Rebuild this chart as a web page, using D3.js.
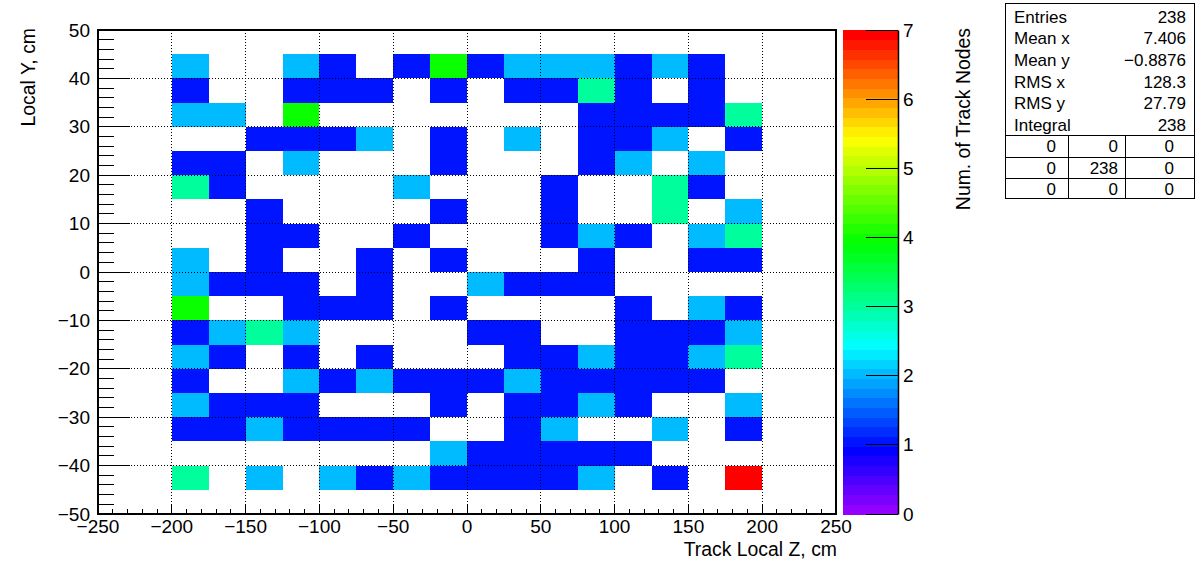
<!DOCTYPE html>
<html>
<head>
<meta charset="utf-8">
<script src="https://cdn.jsdelivr.net/npm/d3@7"></script>
<style>
  html, body { margin: 0; padding: 0; background: #fff; }
  svg { display: block; font-family: "Liberation Sans", Arial, Helvetica, sans-serif; }
</style>
</head>
<body>
<svg id="chart" width="1196" height="572"></svg>
<script>
// ---- data ----
const xBinLow = [-200, -175, -150, -125, -100, -75, -50, -25, 0, 25, 50, 75, 100, 125, 150, 175];
const xBinWidth = 25;
const yBinLow = [40, 35, 30, 25, 20, 15, 10, 5, 0, -5, -10, -15, -20, -25, -30, -35, -40, -45];
const yBinWidth = 5;
// counts[row][col], rows follow yBinLow (top to bottom), cols follow xBinLow
const counts = [
  [2,0,0,2,1,0,1,4,1,2,2,2,1,2,1,0],
  [1,0,0,1,1,1,0,1,0,1,1,3,1,0,1,0],
  [2,2,0,4,0,0,0,0,0,0,0,1,1,1,1,3],
  [0,0,1,1,1,2,0,1,0,2,0,1,1,2,0,1],
  [1,1,0,2,0,0,0,1,0,0,0,1,2,0,2,0],
  [3,1,0,0,0,0,2,0,0,0,1,0,0,3,1,0],
  [0,0,1,0,0,0,0,1,0,0,1,0,0,3,0,2],
  [0,0,1,1,0,0,1,0,0,0,1,2,1,0,2,3],
  [2,0,1,0,0,1,0,1,0,0,0,1,0,0,1,1],
  [2,1,1,1,0,1,0,0,2,1,1,1,0,0,0,0],
  [4,0,0,1,1,1,0,1,0,0,0,0,1,0,2,1],
  [1,2,3,2,0,0,0,0,1,1,0,0,1,1,1,2],
  [2,1,0,1,0,1,0,0,0,1,1,2,1,1,2,3],
  [1,0,0,2,1,2,1,1,1,2,1,1,1,1,1,0],
  [2,1,1,1,0,0,0,1,0,1,1,2,1,0,0,2],
  [1,1,2,1,1,1,1,0,0,1,2,0,0,2,0,1],
  [0,0,0,0,0,0,0,2,1,1,1,1,1,0,0,0],
  [3,0,2,0,2,1,2,1,1,1,1,2,0,1,0,7]
];
const xTicks = [-250, -200, -150, -100, -50, 0, 50, 100, 150, 200, 250];
const yTicks = [-50, -40, -30, -20, -10, 0, 10, 20, 30, 40, 50];
const zTicks = [0, 1, 2, 3, 4, 5, 6, 7];
const statLabels = ["Entries", "Mean x", "Mean y", "RMS x", "RMS y", "Integral"];
const statValues = ["238", "7.406", "\u22120.8876", "128.3", "27.79", "238"];
const overflowTable = [["0","0","0"],["0","238","0"],["0","0","0"]];
const xTitle = "Track Local Z, cm";
const yTitle = "Local Y, cm";
const zTitle = "Num. of Track Nodes";

// ---- layout ----
const fx0 = 98, fx1 = 836, fy0 = 30, fy1 = 514;
const svg = d3.select("#chart");
const x = d3.scaleLinear().domain([-250, 250]).range([fx0, fx1]);
const y = d3.scaleLinear().domain([-50, 50]).range([fy1, fy0]);
const zMin = 0, zMax = 7, nCol = 50;
const z = d3.scaleLinear().domain([zMin, zMax]).range([fy1, fy0]);

// ROOT "pretty" palette: HLS hue from 280 down to 0
const palette = d3.range(nCol).map(i => d3.hsl(280 - (i + 1) * (280 / nCol), 1, 0.5).formatHex());
function colorFor(v) {
  let idx = Math.floor(0.01 + (v - zMin) * nCol / (zMax - zMin));
  if (idx > nCol - 1) idx = nCol - 1;
  return palette[idx];
}
const fmt = v => (v < 0 ? "\u2212" + Math.abs(v) : String(v));
const minor = (lo, hi, step) => d3.range(lo, hi + 1e-9, step);

// ---- cells ----
const cells = [];
counts.forEach((row, r) => row.forEach((v, c) => {
  if (v > 0) cells.push({ x0: xBinLow[c], y0: yBinLow[r], v });
}));
svg.append("g").selectAll("rect").data(cells).join("rect")
  .attr("x", d => x(d.x0))
  .attr("y", d => y(d.y0 + yBinWidth))
  .attr("width", d => x(d.x0 + xBinWidth) - x(d.x0))
  .attr("height", d => y(d.y0) - y(d.y0 + yBinWidth))
  .attr("fill", d => colorFor(d.v))
  .attr("shape-rendering", "crispEdges");

// ---- grid ----
const grid = svg.append("g").attr("stroke", "#000").attr("stroke-width", 1)
  .attr("stroke-dasharray", "1,2").attr("shape-rendering", "crispEdges");
xTicks.filter(t => t > -250 && t < 250).forEach(t => {
  grid.append("line").attr("x1", x(t)).attr("x2", x(t)).attr("y1", fy0).attr("y2", fy1);
});
yTicks.filter(t => t > -50 && t < 50).forEach(t => {
  grid.append("line").attr("x1", fx0).attr("x2", fx1).attr("y1", y(t)).attr("y2", y(t));
});

// ---- axes ticks (inside) ----
const ticks = svg.append("g").attr("stroke", "#000").attr("stroke-width", 1).attr("shape-rendering", "crispEdges");
minor(-250, 250, 10).forEach(t => {
  const major = Math.abs(t % 50) < 1e-9;
  ticks.append("line").attr("x1", x(t)).attr("x2", x(t)).attr("y1", fy1).attr("y2", fy1 - (major ? 10 : 5));
});
minor(-50, 50, 2).forEach(t => {
  const major = Math.abs(t % 10) < 1e-9;
  ticks.append("line").attr("x1", fx0).attr("x2", fx0 + (major ? 32 : 16)).attr("y1", y(t)).attr("y2", y(t));
});

// frame
svg.append("rect").attr("x", fx0).attr("y", fy0).attr("width", fx1 - fx0).attr("height", fy1 - fy0)
  .attr("fill", "none").attr("stroke", "#000").attr("stroke-width", 2);

// tick labels
const lab = svg.append("g").attr("font-size", 19).attr("fill", "#000");
xTicks.forEach(t => {
  lab.append("text").attr("x", x(t)).attr("y", 533).attr("text-anchor", "middle").text(fmt(t));
});
yTicks.forEach(t => {
  lab.append("text").attr("x", 90).attr("y", y(t)).attr("dy", "0.35em").attr("text-anchor", "end").text(fmt(t));
});

// axis titles
svg.append("text").attr("x", fx1 + 1).attr("y", 556).attr("text-anchor", "end").attr("font-size", 19.4).text(xTitle);
svg.append("text").attr("transform", `translate(35,${fy0 - 2}) rotate(-90)`).attr("text-anchor", "end")
  .attr("font-size", 19.4).text(yTitle);

// ---- palette bar ----
const px0 = 843, px1 = 898;
const pal = svg.append("g").attr("shape-rendering", "crispEdges");
palette.forEach((c, i) => {
  const v0 = zMin + i * (zMax - zMin) / nCol, v1 = zMin + (i + 1) * (zMax - zMin) / nCol;
  pal.append("rect").attr("x", px0).attr("y", z(v1)).attr("width", px1 - px0)
    .attr("height", z(v0) - z(v1) + 0.5).attr("fill", c);
});
const zAxis = d3.axisRight(z).tickValues(zTicks).tickSize(0).tickFormat(d => d);
const zg = svg.append("g").attr("transform", `translate(${px1},0)`).call(zAxis);
zg.select(".domain").attr("stroke", "#000").attr("stroke-width", 1.5);
zg.selectAll(".tick text").attr("font-size", 19).attr("x", 5).attr("font-family", "Liberation Sans, Arial, sans-serif").attr("fill", "#000");
zTicks.forEach(t => {
  svg.append("line").attr("x1", px1 - 32).attr("x2", px1).attr("y1", z(t)).attr("y2", z(t))
    .attr("stroke", "#000").attr("stroke-width", 1).attr("shape-rendering", "crispEdges");
});
svg.append("text").attr("transform", `translate(970,${fy0 - 2}) rotate(-90)`).attr("text-anchor", "end")
  .attr("font-size", 19.4).text(zTitle);

// ---- stats box ----
const sx0 = 1005, sx1 = 1195, sy0 = 3, sy1 = 198;
const st = svg.append("g");
st.append("rect").attr("x", sx0 + 0.5).attr("y", sy0 + 0.5).attr("width", sx1 - sx0 - 1).attr("height", sy1 - sy0)
  .attr("fill", "#fff").attr("stroke", "#000").attr("stroke-width", 1);
statLabels.forEach((l, i) => {
  const yy = 16.7 + 21.7 * i;
  st.append("text").attr("x", 1014).attr("y", yy).attr("dy", "0.35em").attr("font-size", 17).text(l);
  st.append("text").attr("x", 1186).attr("y", yy).attr("dy", "0.35em").attr("font-size", 17)
    .attr("text-anchor", "end").text(statValues[i]);
});
const rowLines = [135, 157, 178];
const tl = st.append("g").attr("stroke", "#000").attr("stroke-width", 1).attr("shape-rendering", "crispEdges");
rowLines.forEach(yy => tl.append("line").attr("x1", sx0).attr("x2", sx1).attr("y1", yy).attr("y2", yy));
[1068, 1125].forEach(xx => tl.append("line").attr("x1", xx).attr("x2", xx).attr("y1", 135).attr("y2", sy1));
const colRight = [1056, 1118, 1174];
overflowTable.forEach((row, r) => row.forEach((v, c) => {
  st.append("text").attr("x", colRight[c]).attr("y", 146 + 21.7 * r).attr("dy", "0.35em")
    .attr("font-size", 17).attr("text-anchor", "end").text(v);
}));
</script>
</body>
</html>
